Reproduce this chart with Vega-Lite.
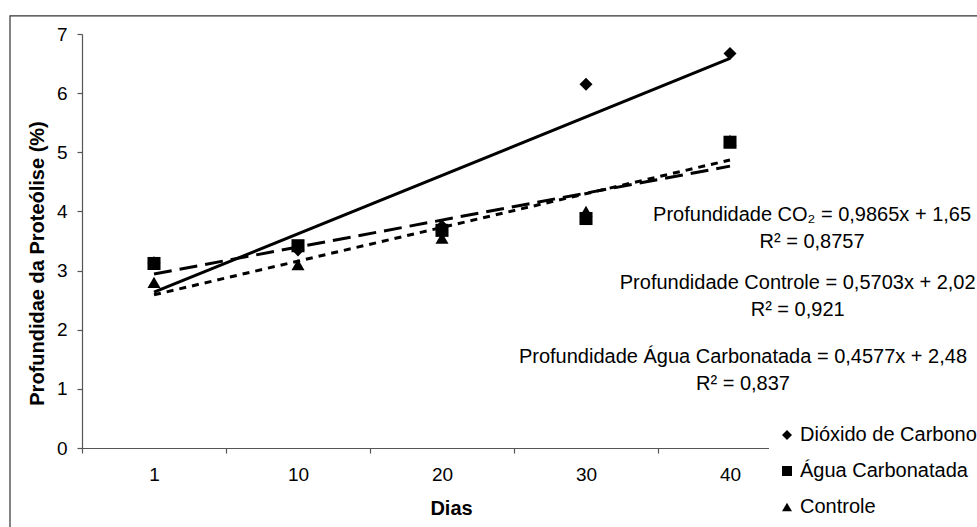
{
  "$schema": "https://vega.github.io/schema/vega-lite/v6.json",
  "autosize": {"type": "none"},
  "padding": {"left": 82, "top": 34, "right": 175, "bottom": 79},
  "width": 720,
  "height": 414,
  "background": "white",
  "config": {
    "font": "Liberation Sans",
    "view": {"stroke": null},
    "axis": {"grid": false, "domainColor": "#555555", "tickColor": "#555555", "labelColor": "black", "titleColor": "black", "labelFont": "Liberation Sans", "titleFont": "Liberation Sans", "labelFontSize": 19, "titleFontSize": 20, "titleFontWeight": "bold", "tickSize": 5, "domainWidth": 1.2, "tickWidth": 1.2},
    "legend": {"labelFont": "Liberation Sans", "labelFontSize": 20, "labelColor": "black", "labelLimit": 0}
  },
  "data": {
    "values": [
      {"dia": "1", "i": 1, "serie": "Dióxido de Carbono", "valor": 3.13},
      {"dia": "10", "i": 2, "serie": "Dióxido de Carbono", "valor": 3.35},
      {"dia": "20", "i": 3, "serie": "Dióxido de Carbono", "valor": 3.75},
      {"dia": "30", "i": 4, "serie": "Dióxido de Carbono", "valor": 6.15},
      {"dia": "40", "i": 5, "serie": "Dióxido de Carbono", "valor": 6.67},
      {"dia": "1", "i": 1, "serie": "Água Carbonatada", "valor": 3.12},
      {"dia": "10", "i": 2, "serie": "Água Carbonatada", "valor": 3.42},
      {"dia": "20", "i": 3, "serie": "Água Carbonatada", "valor": 3.68},
      {"dia": "30", "i": 4, "serie": "Água Carbonatada", "valor": 3.88},
      {"dia": "40", "i": 5, "serie": "Água Carbonatada", "valor": 5.17},
      {"dia": "1", "i": 1, "serie": "Controle", "valor": 2.8},
      {"dia": "10", "i": 2, "serie": "Controle", "valor": 3.1},
      {"dia": "20", "i": 3, "serie": "Controle", "valor": 3.55},
      {"dia": "30", "i": 4, "serie": "Controle", "valor": 4.0},
      {"dia": "40", "i": 5, "serie": "Controle", "valor": 5.2}
    ]
  },
  "encoding": {
    "x": {
      "field": "i", "type": "quantitative",
      "scale": {"domain": [0.5, 5.5], "nice": false, "zero": false},
      "axis": {
        "title": "Dias",
        "values": [0.5, 1, 1.5, 2, 2.5, 3, 3.5, 4, 4.5, 5, 5.5],
        "labelExpr": "datum.value == 1 ? '1' : datum.value == 2 ? '10' : datum.value == 3 ? '20' : datum.value == 4 ? '30' : datum.value == 5 ? '40' : ''",
        "tickOpacity": {"condition": {"test": "datum.value % 1 === 0", "value": 0}, "value": 1},
        "labelPadding": 12,
        "labelFlush": false,
        "labelOverlap": false,
        "titleX": 369,
        "titleY": 66,
        "titleBaseline": "alphabetic"
      }
    },
    "y": {
      "field": "valor", "type": "quantitative",
      "scale": {"domain": [0, 7], "nice": false, "zero": true},
      "axis": {
        "title": "Profundidae da Proteólise (%)",
        "values": [0, 1, 2, 3, 4, 5, 6, 7],
        "labelPadding": 10,
        "titleX": -39,
        "titleY": 229,
        "titleBaseline": "alphabetic",
        "titleAngle": -90
      }
    }
  },
  "layer": [
    {
      "transform": [{"filter": "datum.i === 1 && datum.serie === 'Controle'"}],
      "mark": {"type": "rect", "fill": null, "fillOpacity": 0, "stroke": "#333333", "strokeWidth": 1.2, "clip": false},
      "encoding": {"x": {"datum": 0.0}, "x2": {"datum": 6.8}, "y": {"datum": 7.305}, "y2": {"datum": -1.5}}
    },
    {
      "transform": [
        {"filter": "datum.serie === 'Dióxido de Carbono'"},
        {"regression": "valor", "on": "i", "method": "linear", "extent": [1, 5]}
      ],
      "mark": {"type": "line", "color": "black", "strokeWidth": 3, "clip": false},
      "encoding": {}
    },
    {
      "transform": [
        {"filter": "datum.serie === 'Água Carbonatada'"},
        {"regression": "valor", "on": "i", "method": "linear", "extent": [1, 5]}
      ],
      "mark": {"type": "line", "color": "black", "strokeWidth": 3, "strokeDash": [18, 8], "clip": false},
      "encoding": {}
    },
    {
      "transform": [
        {"filter": "datum.serie === 'Controle'"},
        {"regression": "valor", "on": "i", "method": "linear", "extent": [1, 5]}
      ],
      "mark": {"type": "line", "color": "black", "strokeWidth": 3, "strokeDash": [7, 6], "clip": false},
      "encoding": {}
    },
    {
      "mark": {"type": "point", "filled": true, "color": "black", "opacity": 1, "size": 170, "clip": false},
      "encoding": {
        "shape": {
          "field": "serie", "type": "nominal",
          "scale": {"domain": ["Dióxido de Carbono", "Água Carbonatada", "Controle"], "range": ["diamond", "square", "triangle-up"]},
          "legend": {
            "title": null,
            "orient": "none",
            "legendX": 687,
            "legendY": 383,
            "padding": 8,
            "fillColor": "white",
            "symbolSize": 100,
            "symbolFillColor": "black",
            "symbolStrokeColor": "black",
            "symbolStrokeWidth": 0,
            "labelOffset": 3,
            "rowPadding": 16
          }
        }
      }
    },
    {
      "transform": [{"filter": "datum.i === 1 && datum.serie === 'Controle'"}],
      "mark": {"type": "text", "fontSize": 20, "align": "center", "baseline": "middle", "color": "black", "clip": false},
      "encoding": {"x": {"datum": 5.57}, "y": {"datum": 3.94}, "text": {"value": "Profundidade CO₂ = 0,9865x + 1,65"}}
    },
    {
      "transform": [{"filter": "datum.i === 1 && datum.serie === 'Controle'"}],
      "mark": {"type": "text", "fontSize": 20, "align": "center", "baseline": "middle", "color": "black", "clip": false},
      "encoding": {"x": {"datum": 5.57}, "y": {"datum": 3.48}, "text": {"value": "R² = 0,8757"}}
    },
    {
      "transform": [{"filter": "datum.i === 1 && datum.serie === 'Controle'"}],
      "mark": {"type": "text", "fontSize": 20, "align": "center", "baseline": "middle", "color": "black", "clip": false},
      "encoding": {"x": {"datum": 5.47}, "y": {"datum": 2.79}, "text": {"value": "Profundidade Controle = 0,5703x + 2,02"}}
    },
    {
      "transform": [{"filter": "datum.i === 1 && datum.serie === 'Controle'"}],
      "mark": {"type": "text", "fontSize": 20, "align": "center", "baseline": "middle", "color": "black", "clip": false},
      "encoding": {"x": {"datum": 5.47}, "y": {"datum": 2.33}, "text": {"value": "R² = 0,921"}}
    },
    {
      "transform": [{"filter": "datum.i === 1 && datum.serie === 'Controle'"}],
      "mark": {"type": "text", "fontSize": 20, "align": "center", "baseline": "middle", "color": "black", "clip": false},
      "encoding": {"x": {"datum": 5.09}, "y": {"datum": 1.54}, "text": {"value": "Profundidade Água Carbonatada = 0,4577x + 2,48"}}
    },
    {
      "transform": [{"filter": "datum.i === 1 && datum.serie === 'Controle'"}],
      "mark": {"type": "text", "fontSize": 20, "align": "center", "baseline": "middle", "color": "black", "clip": false},
      "encoding": {"x": {"datum": 5.09}, "y": {"datum": 1.08}, "text": {"value": "R² = 0,837"}}
    }
  ]
}
